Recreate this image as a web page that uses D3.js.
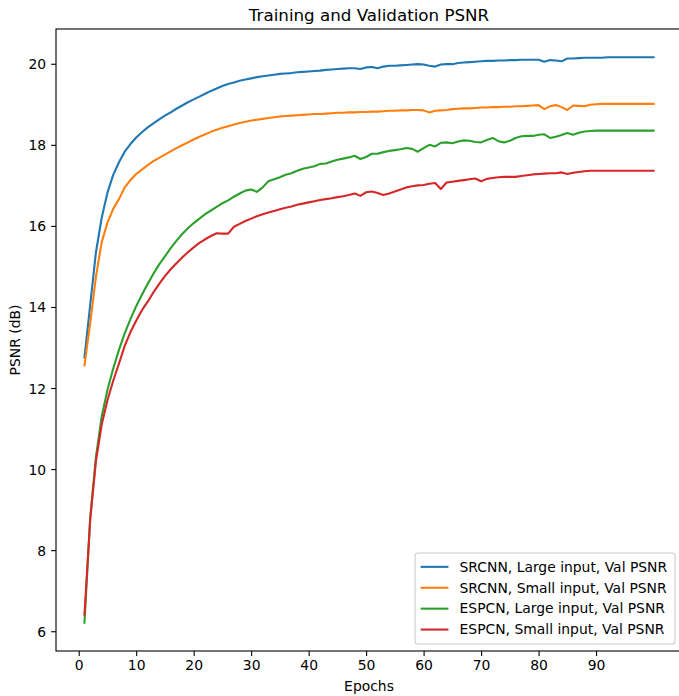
<!DOCTYPE html>
<html>
<head>
<meta charset="utf-8">
<script src="https://cdn.jsdelivr.net/npm/d3@7"></script>
<style>
  body { margin: 0; background: #fff; }
  svg { display: block; font-family: "DejaVu Sans", sans-serif; }
</style>
</head>
<body>
<div id="wrapper"></div>
<script>
// values, one per epoch (1..100)
const srcnnLarge = [
  12.75, 14.05, 15.35, 16.20, 16.82, 17.26, 17.57, 17.83, 18.02, 18.18,
  18.31, 18.43, 18.53, 18.63, 18.72, 18.80, 18.89, 18.97, 19.05, 19.12,
  19.19, 19.26, 19.33, 19.39, 19.45, 19.50, 19.54, 19.58, 19.61, 19.64,
  19.67, 19.69, 19.71, 19.73, 19.75, 19.76, 19.77, 19.79, 19.80, 19.81,
  19.82, 19.83, 19.85, 19.86, 19.87, 19.88, 19.89, 19.89, 19.87, 19.91,
  19.92, 19.89, 19.93, 19.95, 19.95, 19.96, 19.97, 19.98, 19.99, 19.98,
  19.95, 19.93, 19.98, 19.99, 19.99, 20.02, 20.03, 20.04, 20.05, 20.06,
  20.07, 20.07, 20.08, 20.08, 20.09, 20.09, 20.10, 20.10, 20.10, 20.10,
  20.05, 20.09, 20.08, 20.06, 20.13, 20.13, 20.14, 20.15, 20.15, 20.15,
  20.15, 20.16, 20.16, 20.16, 20.16, 20.16, 20.16, 20.16, 20.16, 20.16
]
const srcnnSmall = [
  12.56, 13.60, 14.75, 15.60, 16.08, 16.42, 16.66, 16.95, 17.13, 17.28,
  17.39, 17.50, 17.60, 17.68, 17.76, 17.84, 17.92, 17.99, 18.06, 18.13,
  18.20, 18.26, 18.32, 18.37, 18.42, 18.46, 18.50, 18.54, 18.57, 18.60,
  18.62, 18.64, 18.66, 18.68, 18.70, 18.71, 18.72, 18.73, 18.74, 18.75,
  18.76, 18.76, 18.77, 18.78, 18.79, 18.79, 18.80, 18.80, 18.81, 18.81,
  18.82, 18.82, 18.83, 18.84, 18.84, 18.85, 18.85, 18.86, 18.86, 18.85,
  18.80, 18.84, 18.85, 18.86, 18.88, 18.89, 18.90, 18.90, 18.91, 18.92,
  18.92, 18.93, 18.93, 18.94, 18.94, 18.95, 18.95, 18.96, 18.97, 18.98,
  18.88, 18.95, 18.98, 18.93, 18.86, 18.97, 18.96, 18.95, 18.99, 19.00,
  19.01, 19.01, 19.01, 19.01, 19.01, 19.01, 19.01, 19.01, 19.01, 19.01
]
const espcnLarge = [
  6.21, 8.80, 10.30, 11.30, 11.95, 12.48, 12.94, 13.35, 13.70, 14.02,
  14.30, 14.57, 14.82, 15.05, 15.25, 15.45, 15.63, 15.80, 15.94, 16.07,
  16.18, 16.29, 16.38, 16.47, 16.56, 16.63, 16.72, 16.80, 16.87, 16.90,
  16.84, 16.95, 17.10, 17.15, 17.20, 17.26, 17.30, 17.36, 17.41, 17.44,
  17.47, 17.53, 17.54, 17.59, 17.63, 17.66, 17.69, 17.73, 17.65, 17.70,
  17.78, 17.78, 17.82, 17.85, 17.87, 17.89, 17.92, 17.90, 17.83, 17.92,
  18.00, 17.96, 18.05, 18.06, 18.04, 18.08, 18.11, 18.10, 18.07, 18.06,
  18.12, 18.17, 18.09, 18.06, 18.10, 18.17, 18.21, 18.22, 18.22, 18.25,
  18.26, 18.17, 18.20, 18.24, 18.29, 18.25, 18.30, 18.33, 18.34, 18.35,
  18.35, 18.35, 18.35, 18.35, 18.35, 18.35, 18.35, 18.35, 18.35, 18.35
]
const espcnSmall = [
  6.41, 8.75, 10.20, 11.10, 11.70, 12.18, 12.60, 13.04, 13.38, 13.66,
  13.92, 14.13, 14.36, 14.57, 14.76, 14.93, 15.08, 15.22, 15.35, 15.47,
  15.58, 15.67, 15.75, 15.82, 15.81, 15.81, 15.98, 16.05, 16.12, 16.18,
  16.24, 16.29, 16.33, 16.37, 16.41, 16.45, 16.48, 16.52, 16.55, 16.58,
  16.61, 16.64, 16.66, 16.68, 16.71, 16.73, 16.76, 16.80, 16.74, 16.83,
  16.85, 16.81, 16.76, 16.80, 16.85, 16.90, 16.95, 16.98, 17.00, 17.01,
  17.04, 17.06, 16.91, 17.07, 17.09, 17.11, 17.13, 17.15, 17.17, 17.10,
  17.16, 17.18, 17.20, 17.21, 17.21, 17.21, 17.23, 17.25, 17.27, 17.28,
  17.29, 17.30, 17.30, 17.32, 17.28, 17.31, 17.33, 17.35, 17.36, 17.36,
  17.36, 17.36, 17.36, 17.36, 17.36, 17.36, 17.36, 17.36, 17.36, 17.36
]

const seriesLabels = [
  "SRCNN, Large input, Val PSNR",
  "SRCNN, Small input, Val PSNR",
  "ESPCN, Large input, Val PSNR",
  "ESPCN, Small input, Val PSNR",
]
const seriesColors = ["#1f77b4", "#ff7f0e", "#2ca02c", "#d62728"]
const xTicks = [0, 10, 20, 30, 40, 50, 60, 70, 80, 90]
const yTicks = [6, 8, 10, 12, 14, 16, 18, 20]

const epochs = d3.range(1, srcnnLarge.length + 1)
const allSeries = [srcnnLarge, srcnnSmall, espcnLarge, espcnSmall]

const fs = 13.9
let dimensions = {
    width: 679,
    height: 696,
    margin: { top: 29, right: -3, bottom: 45, left: 56 },
}
dimensions.boundedWidth = dimensions.width - dimensions.margin.left - dimensions.margin.right
dimensions.boundedHeight = dimensions.height - dimensions.margin.top - dimensions.margin.bottom

const svg = d3.select("#wrapper")
    .append("svg")
    .attr("width", dimensions.width)
    .attr("height", dimensions.height)

const bounds = svg.append("g")
    .attr("transform", `translate(${dimensions.margin.left},${dimensions.margin.top})`)

// matplotlib style 5% margins
const xExt = d3.extent(epochs)
const xPad = (xExt[1] - xExt[0]) * 0.05
const yExt = d3.extent(allSeries.flat())
const yPad = (yExt[1] - yExt[0]) * 0.05

const xScale = d3.scaleLinear()
    .domain([xExt[0] - xPad, xExt[1] + xPad])
    .range([0, dimensions.boundedWidth])
const yScale = d3.scaleLinear()
    .domain([yExt[0] - yPad, yExt[1] + yPad])
    .range([dimensions.boundedHeight, 0])

const line = d3.line()
    .x((d, i) => xScale(epochs[i]))
    .y(d => yScale(d))

bounds.append("g")
    .selectAll("path")
    .data(allSeries)
    .join("path")
    .attr("d", line)
    .attr("fill", "none")
    .attr("stroke", (d, i) => seriesColors[i])
    .attr("stroke-width", 2.1)
    .attr("stroke-linejoin", "round")
    .attr("stroke-linecap", "square")

// axes
const xAxis = bounds.append("g")
    .attr("transform", `translate(0,${dimensions.boundedHeight})`)
    .call(d3.axisBottom(xScale).tickValues(xTicks).tickSize(4.9).tickPadding(4.9))
const yAxis = bounds.append("g")
    .call(d3.axisLeft(yScale).tickValues(yTicks).tickSize(4.9).tickPadding(4.9))

for (const ax of [xAxis, yAxis]) {
    ax.select(".domain").remove()
    ax.selectAll(".tick line").attr("stroke", "#000").attr("stroke-width", 1.1)
    ax.selectAll(".tick text")
        .attr("fill", "#000")
        .style("font-size", `${fs}px`)
        .style("font-family", "DejaVu Sans")
}
xAxis.selectAll(".tick text").attr("dy", null).attr("y", 19)
yAxis.selectAll(".tick text").attr("dy", "0.36em")

// frame
bounds.append("rect")
    .attr("width", dimensions.boundedWidth)
    .attr("height", dimensions.boundedHeight)
    .attr("fill", "none")
    .attr("stroke", "#000")
    .attr("stroke-width", 1.1)

// title and labels
svg.append("text")
    .attr("x", dimensions.margin.left + dimensions.boundedWidth / 2)
    .attr("y", 20.7)
    .attr("text-anchor", "middle")
    .style("font-size", "16.7px")
    .text("Training and Validation PSNR")

svg.append("text")
    .attr("x", dimensions.margin.left + dimensions.boundedWidth / 2)
    .attr("y", 691)
    .attr("text-anchor", "middle")
    .style("font-size", `${fs}px`)
    .text("Epochs")

svg.append("text")
    .attr("transform", `translate(20,${dimensions.margin.top + dimensions.boundedHeight / 2}) rotate(-90)`)
    .attr("text-anchor", "middle")
    .style("font-size", `${fs}px`)
    .text("PSNR (dB)")

// legend, lower right
const rowH = 20.9
const legendW = 260
const legendH = 91
const legend = bounds.append("g")
    .attr("transform", `translate(${dimensions.boundedWidth - 6.95 - legendW},${dimensions.boundedHeight - 6.95 - legendH})`)

legend.append("rect")
    .attr("width", legendW)
    .attr("height", legendH)
    .attr("rx", 3)
    .attr("fill", "#fff")
    .attr("fill-opacity", 0.8)
    .attr("stroke", "#cccccc")
    .attr("stroke-width", 1.1)

const rows = legend.selectAll(".row")
    .data(seriesLabels)
    .join("g")
    .attr("class", "row")
    .attr("transform", (d, i) => `translate(0,${13.8 + i * rowH})`)

rows.append("line")
    .attr("x1", 5.6)
    .attr("x2", 5.6 + 27.8)
    .attr("stroke", (d, i) => seriesColors[i])
    .attr("stroke-width", 2.1)

rows.append("text")
    .attr("x", 5.6 + 27.8 + 11.1)
    .attr("y", 4.8)
    .style("font-size", `${fs}px`)
    .text(d => d)
</script>
</body>
</html>
